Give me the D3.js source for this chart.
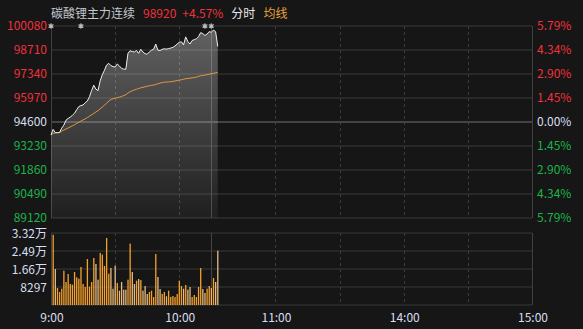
<!DOCTYPE html>
<html lang="zh">
<head>
<meta charset="utf-8">
<script src="https://d3js.org/d3.v7.min.js"></script>
<style>
  html, body { margin: 0; padding: 0; background: #161616; }
  svg { display: block; }
  text { font-family: "Noto Sans CJK SC", "Noto Sans", sans-serif; font-size: 12px; }
</style>
</head>
<body>
<div id="chart"></div>
<script>

// minute-by-minute data, index = minutes since 9:00 (trading time)
var price = [93860,94180,93990,93990,94000,94250,94420,94700,94800,94880,
  94980,95100,95300,95480,95540,95570,95700,95800,96040,96400,
  96700,96480,96390,96950,97300,97550,97850,97950,97820,97760,
  97740,97910,97800,97660,97620,97610,98520,98670,98620,98600,
  98680,98520,98750,98600,98500,98470,98600,98700,98750,99050,
  98700,98680,98750,98780,98760,98790,98820,98860,98940,99050,
  99150,99180,99000,99460,99200,99050,99250,99300,99350,99470,
  99700,99650,99540,99620,99760,99720,99850,99760,98920];

var avgPrice = [93860,93950,93980,93990,94000,94080,94140,94200,94260,94320,
  94380,94440,94520,94580,94650,94720,94780,94850,94930,95010,
  95090,95170,95250,95350,95450,95560,95670,95800,95880,95930,
  95960,95990,96020,96060,96110,96150,96260,96330,96380,96430,
  96470,96510,96550,96580,96610,96640,96670,96690,96710,96740,
  96780,96820,96850,96870,96880,96890,96900,96920,96940,96970,
  96990,97010,97040,97070,97090,97100,97120,97140,97160,97200,
  97240,97260,97280,97300,97330,97350,97380,97410,97440];

// volume for minutes 1..78
var volume = [32400,16600,7840,6000,7530,15800,10600,14300,9700,9380,
  15200,12770,12140,17520,9700,8300,21200,8450,10600,21670,
  18900,11680,24000,23200,18000,30900,14450,17060,7530,18130,
  10140,6600,10600,7070,7070,11680,28270,15200,9680,11220,
  11990,11530,6610,8760,5070,6000,6610,3690,23510,12910,
  7380,5070,6000,4000,6610,3690,4150,3690,5070,11220,
  8760,7530,9220,7070,8300,3690,4610,3690,8300,17060,
  7380,5530,7530,8760,7840,12450,10600,25050];

var prevClose = 94600;
var priceTicks = [100080, 98710, 97340, 95970, 94600, 93230, 91860, 90490, 89120];
var pctTicks = ["5.79%","4.34%","2.90%","1.45%","0.00%","1.45%","2.90%","4.34%","5.79%"];
var volTicks = [33188, 24891, 16594, 8297];
var volLabels = ["3.32万","2.49万","1.66万","8297"];
var timeTicks = [0, 60, 105, 165, 225];
var timeLabels = ["9:00","10:00","11:00","14:00","15:00"];
var dashedMinutes = [30, 60, 105, 135, 165, 195];
var breakMinute = 75;
var markerMinutes = [0, 14, 72, 75];

var W = 583, H = 329;
var left = 51, right = 532;
var red = "#f0303c", green = "#1db34a", neutral = "#d6def0";

var svg = d3.select('#chart').append('svg').attr('width', W).attr('height', H);

var x = d3.scaleLinear().domain([0, 225]).range([left, right]);
var y = d3.scaleLinear().domain([89120, 100080]).range([218, 26]);
var yv = d3.scaleLinear().domain([0, 33188]).range([305, 233]);

// gradient for area under price
var defs = svg.append('defs');
var grad = defs.append('linearGradient').attr('id', 'areaGrad')
  .attr('x1', 0).attr('y1', 0).attr('x2', 0).attr('y2', 1);
grad.append('stop').attr('offset', '0%').attr('stop-color', '#ffffff').attr('stop-opacity', 0.32);
grad.append('stop').attr('offset', '100%').attr('stop-color', '#ffffff').attr('stop-opacity', 0.04);

// grid - price panel
var grid = svg.append('g');
grid.selectAll('.hgrid').data(priceTicks).enter().append('line')
  .attr('x1', left).attr('x2', right)
  .attr('y1', d => y(d)).attr('y2', d => y(d))
  .attr('stroke', d => d === prevClose ? '#555' : '#383838')
  .attr('stroke-width', d => d === prevClose ? 1.5 : 1);

// grid - volume panel
var volGrid = [0].concat(volTicks);
grid.selectAll('.vgrid').data(volGrid).enter().append('line')
  .attr('x1', left).attr('x2', right)
  .attr('y1', d => yv(d)).attr('y2', d => yv(d))
  .attr('stroke', '#383838');

// vertical lines
[[26, 218], [233, 305]].forEach(function (r) {
  grid.selectAll(null).data(dashedMinutes).enter().append('line')
    .attr('x1', d => Math.round(x(d)) + 0.5).attr('x2', d => Math.round(x(d)) + 0.5)
    .attr('y1', r[0]).attr('y2', r[1])
    .attr('stroke', '#3c3c3c').attr('stroke-dasharray', '3,3');
  grid.append('line')
    .attr('x1', Math.round(x(breakMinute)) + 0.5).attr('x2', Math.round(x(breakMinute)) + 0.5)
    .attr('y1', r[0]).attr('y2', r[1]).attr('stroke', '#444');
  grid.append('line').attr('x1', left + 0.5).attr('x2', left + 0.5)
    .attr('y1', r[0]).attr('y2', r[1]).attr('stroke', '#404040');
  grid.append('line').attr('x1', right + 0.5).attr('x2', right + 0.5)
    .attr('y1', r[0]).attr('y2', r[1]).attr('stroke', '#404040');
});

// area + lines
var area = d3.area().x((d, i) => x(i)).y0(218).y1(d => y(d));
svg.append('path').datum(price).attr('d', area).attr('fill', 'url(#areaGrad)');

var line = d3.line().x((d, i) => x(i)).y(d => y(d));
svg.append('path').datum(avgPrice).attr('d', line)
  .attr('fill', 'none').attr('stroke', '#e09a3e').attr('stroke-width', 1);
svg.append('path').datum(price).attr('d', line)
  .attr('fill', 'none').attr('stroke', '#eeeeee').attr('stroke-width', 1);

// markers on top
var mk = svg.append('g').selectAll('g').data(markerMinutes).enter().append('g')
  .attr('transform', d => 'translate(' + x(d) + ',26)');
mk.append('path').attr('d', d3.symbol().type(d3.symbolAsterisk).size(22))
  .attr('stroke', '#aaa').attr('stroke-width', 1.2).attr('fill', 'none');
mk.append('circle').attr('r', 1.8).attr('fill', '#bbb');

// volume bars
svg.append('g').selectAll('rect').data(volume).enter().append('rect')
  .attr('x', (d, i) => x(i + 1) - 0.6)
  .attr('width', 1.3)
  .attr('y', d => yv(d))
  .attr('height', d => 305 - yv(d))
  .attr('fill', (d, i) => price[i + 1] >= price[i] ? '#f5a12b' : '#e6bb82');

// left price labels
svg.append('g').selectAll('text').data(priceTicks).enter().append('text')
  .attr('x', 47).attr('y', d => y(d)).attr('dy', '0.36em')
  .attr('text-anchor', 'end')
  .attr('fill', d => d > prevClose ? red : (d < prevClose ? green : neutral))
  .text(d => d);

// right percentage labels
svg.append('g').selectAll('text').data(pctTicks).enter().append('text')
  .attr('x', 537).attr('y', (d, i) => y(priceTicks[i])).attr('dy', '0.36em')
  .attr('fill', (d, i) => priceTicks[i] > prevClose ? red : (priceTicks[i] < prevClose ? green : neutral))
  .text(d => d);

// volume labels
svg.append('g').selectAll('text').data(volLabels).enter().append('text')
  .attr('x', 47).attr('y', (d, i) => yv(volTicks[i]) + 1).attr('dy', '0.36em')
  .attr('text-anchor', 'end').attr('fill', neutral)
  .text(d => d);

// time labels
svg.append('g').selectAll('text').data(timeLabels).enter().append('text')
  .attr('x', (d, i) => x(timeTicks[i]) + 1).attr('y', 318).attr('dy', '0.36em')
  .attr('text-anchor', 'middle').attr('fill', neutral)
  .text(d => d);

// title
var last = price[price.length - 1];
var chg = (last - prevClose) / prevClose * 100;
var title = svg.append('text').attr('x', 51).attr('y', 14).attr('dy', '0.36em');
title.append('tspan').attr('fill', '#c4c8d0').text('碳酸锂主力连续');
title.append('tspan').attr('dx', 8).attr('fill', red).text(last);
title.append('tspan').attr('dx', 6).attr('fill', red).text('+' + chg.toFixed(2) + '%');
title.append('tspan').attr('dx', 8).attr('fill', '#e8e8e8').text('分时');
title.append('tspan').attr('dx', 8).attr('fill', '#e8a23a').text('均线');

</script>
</body>
</html>
